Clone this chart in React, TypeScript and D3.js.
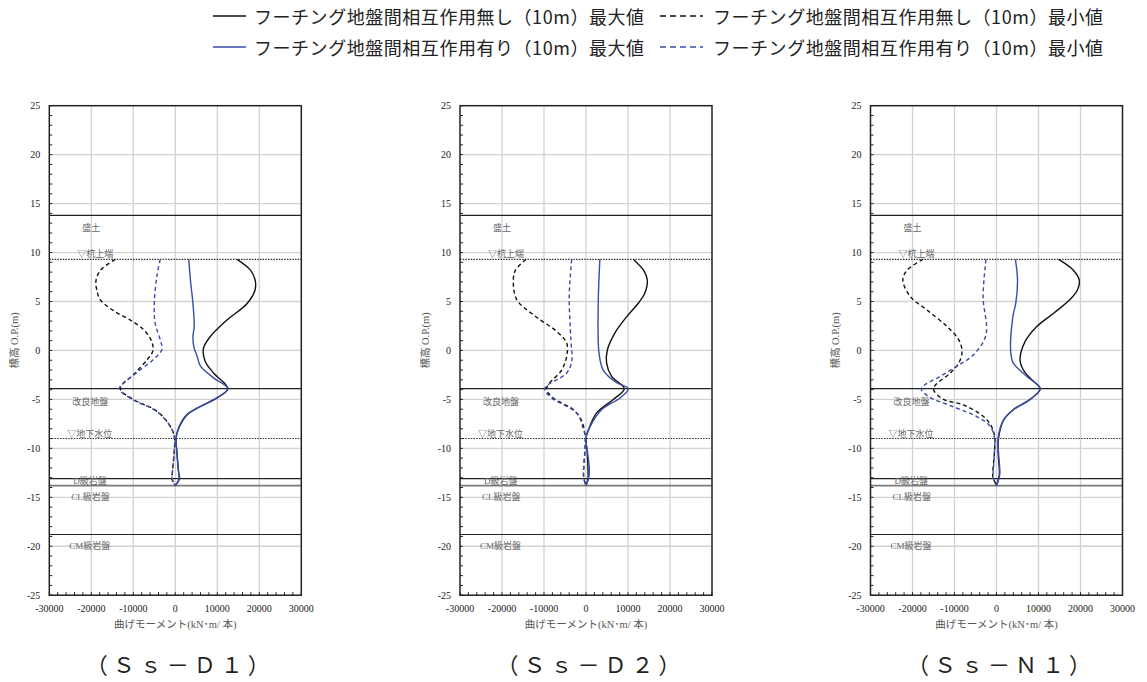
import React from "react";
import * as d3 from "d3";

// ---------- data ----------
const elevTicks = d3.range(-25, 26, 5);
const momentTicks = d3.range(-30000, 30001, 10000);
const elevMinor = d3.range(-25, 26, 1);
const momentMinor = d3.range(-30000, 30001, 2000);

const panelTitles = ["（Ｓｓ－Ｄ１）", "（Ｓｓ－Ｄ２）", "（Ｓｓ－Ｎ１）"];
const legendLabels = [
  "フーチング地盤間相互作用無し（10m）最大値",
  "フーチング地盤間相互作用無し（10m）最小値",
  "フーチング地盤間相互作用有り（10m）最大値",
  "フーチング地盤間相互作用有り（10m）最小値",
];
const xAxisTitle = "曲げモーメント(kN･m/ 本)";
const yAxisTitle = "標高 O.P.(m)";

const solidBoundaries = [13.8, -3.9, -13.1, -18.8];
const dottedBoundaries = [9.3, -9.0];
const grayBoundaries = [-13.8];

const layerNames = ["盛土", "▽杭上端", "改良地盤", "▽地下水位", "D級岩盤", "CL級岩盤", "CM級岩盤"];
const layerElevs = [12.5, 9.85, -5.3, -8.5, -13.3, -15.0, -20.0];

// [elevation (m), moment (kN·m/本)]
const d1MaxNo: [number, number][] = [
  [9.3, 14700], [8.2, 17900], [7.2, 19000], [6.2, 19000], [4.8, 17100], [3.1, 12300],
  [1.4, 8300], [0.2, 6700], [-1.1, 7100], [-2.3, 9100], [-3.9, 12500], [-4.85, 9900],
  [-5.9, 5200], [-6.55, 2800], [-7.9, 800], [-8.9, 200], [-10.5, 400], [-12.5, 800],
  [-13.1, 1000], [-13.8, 0],
];
const d1MinNo: [number, number][] = [
  [9.3, -14300], [8.2, -17800], [7.1, -18900], [6.2, -18700], [5.2, -17900], [4.0, -14500],
  [3.1, -10700], [2.1, -7500], [1.0, -5700], [0.0, -5300], [-0.95, -6700], [-2.4, -9800],
  [-3.9, -13100], [-5.0, -10000], [-6.2, -4400], [-7.75, -1200], [-8.9, -200], [-10.5, -300],
  [-12.5, -700], [-13.1, -800], [-13.8, 0],
];
const d1MaxWith: [number, number][] = [
  [9.3, 3200], [7.2, 3600], [4.8, 4200], [2.45, 4500], [1.4, 4200], [0.4, 4400],
  [-0.6, 5200], [-1.6, 6000], [-2.8, 9100], [-3.9, 12500], [-4.85, 9900], [-5.9, 5200],
  [-6.55, 2900], [-7.9, 900], [-8.9, 200], [-10.5, 400], [-12.5, 800], [-13.1, 900], [-13.8, 0],
];
const d1MinWith: [number, number][] = [
  [9.3, -3600], [7.55, -4400], [4.8, -5000], [2.8, -4800], [1.1, -3600], [0.1, -3200],
  [-0.95, -5300], [-2.4, -9600], [-3.9, -13300], [-5.0, -10200], [-6.2, -4500], [-7.75, -1200],
  [-8.9, -200], [-10.5, -300], [-12.5, -700], [-13.1, -800], [-13.8, 0],
];

const d2MaxNo: [number, number][] = [
  [9.3, 11300], [8.2, 13700], [7.2, 14600], [5.85, 14000], [4.85, 12500], [3.45, 9700],
  [1.8, 6900], [0.07, 5100], [-1.3, 4900], [-2.65, 6100], [-3.9, 9100], [-5.0, 6500],
  [-6.4, 2500], [-8.1, 600], [-8.9, 0], [-10.5, 300], [-12.5, 500], [-13.1, 500], [-13.8, 0],
];
const d2MinNo: [number, number][] = [
  [9.3, -14300], [8.2, -16800], [7.2, -17300], [5.2, -16500], [3.5, -12100], [1.95, -7000],
  [0.75, -4600], [-0.6, -4600], [-2.0, -5800], [-3.9, -9400], [-4.85, -7800], [-6.05, -3000],
  [-7.2, -1000], [-8.9, -200], [-10.5, -300], [-12.5, -600], [-13.1, -500], [-13.8, 0],
];
const d2MaxWith: [number, number][] = [
  [9.3, 3300], [4.5, 2900], [-0.25, 3100], [-2.0, 4100], [-3.3, 7300], [-3.9, 10100],
  [-4.85, 8100], [-6.05, 3700], [-7.75, 1000], [-8.9, 0], [-10.5, 400], [-12.2, 800],
  [-13.1, 600], [-13.8, 0],
];
const d2MinWith: [number, number][] = [
  [9.3, -3400], [5.5, -4000], [1.1, -3600], [-1.1, -3400], [-2.3, -4600], [-3.9, -9800],
  [-4.85, -8200], [-6.4, -2200], [-8.1, -600], [-8.9, -100], [-10.5, -300], [-12.5, -600],
  [-13.1, -500], [-13.8, 0],
];

const n1MaxNo: [number, number][] = [
  [9.3, 14800], [8.2, 18300], [7.2, 19700], [6.2, 19300], [5.2, 17500], [3.8, 13600],
  [2.45, 9600], [0.9, 6800], [-0.95, 5600], [-2.0, 6400], [-3.0, 8400], [-3.9, 10400],
  [-5.0, 8000], [-6.05, 4000], [-7.1, 1700], [-8.9, 500], [-10.5, 400], [-12.5, 700],
  [-13.1, 500], [-13.8, 0],
];
const n1MinNo: [number, number][] = [
  [9.3, -17500], [8.2, -21300], [7.2, -22300], [5.5, -20500], [4.15, -16600], [2.45, -11800],
  [1.1, -9000], [-0.1, -8200], [-1.3, -9000], [-2.3, -11000], [-3.9, -15000], [-5.0, -12600],
  [-5.55, -7900], [-6.75, -3100], [-7.75, -1200], [-8.9, -400], [-10.5, -500], [-12.8, -900],
  [-13.1, -700], [-13.8, 0],
];
const n1MaxWith: [number, number][] = [
  [9.3, 4500], [7.2, 5000], [4.85, 4600], [3.45, 3900], [-0.25, 3400], [-1.3, 4000],
  [-2.65, 7200], [-3.9, 10400], [-5.0, 8000], [-6.05, 4000], [-7.1, 1700], [-8.9, 400],
  [-10.5, 500], [-12.5, 800], [-13.1, 600], [-13.8, 0],
];
const n1MinWith: [number, number][] = [
  [9.3, -2500], [5.5, -3200], [1.6, -2500], [-0.45, -5500], [-1.6, -9400], [-2.65, -13400],
  [-3.9, -17900], [-4.7, -16200], [-5.7, -10600], [-6.75, -4700], [-7.75, -1500], [-8.9, -500],
  [-10.5, -500], [-12.8, -800], [-13.1, -700], [-13.8, 0],
];

const panelSeries = [
  [d1MaxNo, d1MinNo, d1MaxWith, d1MinWith],
  [d2MaxNo, d2MinNo, d2MaxWith, d2MinWith],
  [n1MaxNo, n1MinNo, n1MaxWith, n1MinWith],
];

// ---------- styles / layout ----------
const BLACK = "#111";
const BLUE = "#3b4ca8";
const seriesStyles = [
  { color: BLACK, dash: undefined, legendDash: undefined },
  { color: BLACK, dash: "4,3", legendDash: "6,4" },
  { color: BLUE, dash: undefined, legendDash: undefined },
  { color: BLUE, dash: "4,3", legendDash: "6,4" },
];
const panelLefts = [49.3, 460, 870.5];
const PLOT_TOP = 105.7;
const PLOT_W = 252;
const PLOT_H = 489.5;
const SERIF = "'Liberation Serif', 'Noto Sans CJK JP', serif";
const JP = "'Noto Sans CJK JP', sans-serif";
const layerLabelDx = [42, 28, 23, 18, 24, 22, 20];
const layerLabelAnchor = ["middle", "start", "start", "start", "start", "start", "start"];

function Panel({ idx }: { idx: number }) {
  const x = d3.scaleLinear().domain([-30000, 30000]).range([0, PLOT_W]);
  const y = d3.scaleLinear().domain([25, -25]).range([0, PLOT_H]);
  const line = d3
    .line<[number, number]>()
    .x((d) => x(d[1]))
    .y((d) => y(d[0]))
    .curve(d3.curveCatmullRom.alpha(0.5));
  const left = panelLefts[idx];
  return (
    <g transform={`translate(${left},${PLOT_TOP})`}>
      {/* grid */}
      {momentTicks.slice(1, -1).map((t) => (
        <line key={"gx" + t} x1={x(t)} x2={x(t)} y1={0} y2={PLOT_H} stroke="#d2d2d2" strokeWidth={1.3} />
      ))}
      {elevTicks.slice(1, -1).map((t) => (
        <line key={"gy" + t} x1={0} x2={PLOT_W} y1={y(t)} y2={y(t)} stroke="#d2d2d2" strokeWidth={1.3} />
      ))}
      {/* boundaries */}
      {solidBoundaries.map((e) => (
        <line key={"sb" + e} x1={0} x2={PLOT_W} y1={y(e)} y2={y(e)} stroke="#222" strokeWidth={1.2} />
      ))}
      {grayBoundaries.map((e) => (
        <line key={"gb" + e} x1={0} x2={PLOT_W} y1={y(e)} y2={y(e)} stroke="#7a7a7a" strokeWidth={1.8} />
      ))}
      {dottedBoundaries.map((e) => (
        <line key={"db" + e} x1={0} x2={PLOT_W} y1={y(e)} y2={y(e)} stroke="#333" strokeWidth={1.1} strokeDasharray="1.5,1.2" />
      ))}
      {/* layer labels */}
      {layerNames.map((n, i) => (
        <text
          key={n}
          x={layerLabelDx[i]}
          y={y(layerElevs[i])}
          fontSize={9}
          fill="#666"
          fontFamily={SERIF}
          textAnchor={layerLabelAnchor[i] as any}
          dominantBaseline="central"
        >
          {n}
        </text>
      ))}
      {/* curves */}
      {panelSeries[idx].map((s, i) => (
        <path
          key={"s" + i}
          d={line(s) || ""}
          fill="none"
          stroke={seriesStyles[i].color}
          strokeWidth={1.4}
          strokeDasharray={seriesStyles[i].dash}
        />
      ))}
      {/* minor ticks */}
      {elevMinor.map((t) => (
        <line key={"ty" + t} x1={0} x2={3} y1={y(t)} y2={y(t)} stroke="#222" strokeWidth={1} />
      ))}
      {momentMinor.map((t) => (
        <line key={"tx" + t} x1={x(t)} x2={x(t)} y1={PLOT_H} y2={PLOT_H - 3} stroke="#222" strokeWidth={1} />
      ))}
      {/* frame */}
      <rect x={0} y={0} width={PLOT_W} height={PLOT_H} fill="none" stroke="#222" strokeWidth={1.5} />
      {/* tick labels */}
      {elevTicks.map((t) => (
        <text key={"ly" + t} x={-9} y={y(t)} fontSize={10} fontFamily={SERIF} fill="#222" textAnchor="end" dominantBaseline="central">
          {t}
        </text>
      ))}
      {momentTicks.map((t) => (
        <text key={"lx" + t} x={x(t)} y={PLOT_H + 13} fontSize={10} fontFamily={SERIF} fill="#222" textAnchor="middle" dominantBaseline="central">
          {t}
        </text>
      ))}
      <text x={PLOT_W / 2} y={PLOT_H + 29} fontSize={10.5} fontFamily={SERIF} fill="#555" textAnchor="middle" dominantBaseline="central">
        {xAxisTitle}
      </text>
      <text
        transform={`translate(${-35},${PLOT_H / 2 - 10}) rotate(-90)`}
        fontSize={10.5}
        fontFamily={SERIF}
        fill="#555"
        textAnchor="middle"
        dominantBaseline="central"
      >
        {yAxisTitle}
      </text>
      <text
        x={PLOT_W / 2 + 5}
        y={PLOT_H + 70}
        fontSize={22}
        fontFamily={SERIF}
        fill="#222"
        textAnchor="middle"
        dominantBaseline="central"
        letterSpacing={5}
      >
        {panelTitles[idx]}
      </text>
    </g>
  );
}

function Legend() {
  const cols = [
    { lx1: 213, lx2: 246, tx: 254 },
    { lx1: 660, lx2: 703, tx: 713 },
  ];
  const rows = [16, 47];
  const order = [0, 1, 2, 3];
  return (
    <g>
      {order.map((i) => {
        const c = cols[i % 2];
        const r = rows[Math.floor(i / 2)];
        const st = seriesStyles[i];
        return (
          <g key={"lg" + i}>
            <line x1={c.lx1} x2={c.lx2} y1={r} y2={r} stroke={st.color} strokeWidth={1.6} strokeDasharray={st.legendDash} />
            <text
              x={c.tx}
              y={r}
              fontSize={18}
              fontFamily={JP}
              fill="#222"
              dominantBaseline="central"
              textLength={390}
              lengthAdjust="spacing"
            >
              {legendLabels[i]}
            </text>
          </g>
        );
      })}
    </g>
  );
}

export default function App() {
  return (
    <svg width={1147} height={682} style={{ position: "absolute", left: 0, top: 0, background: "#fff" }}>
      <rect x={0} y={0} width={1147} height={682} fill="#fff" />
      <Legend />
      {[0, 1, 2].map((i) => (
        <Panel key={i} idx={i} />
      ))}
    </svg>
  );
}
